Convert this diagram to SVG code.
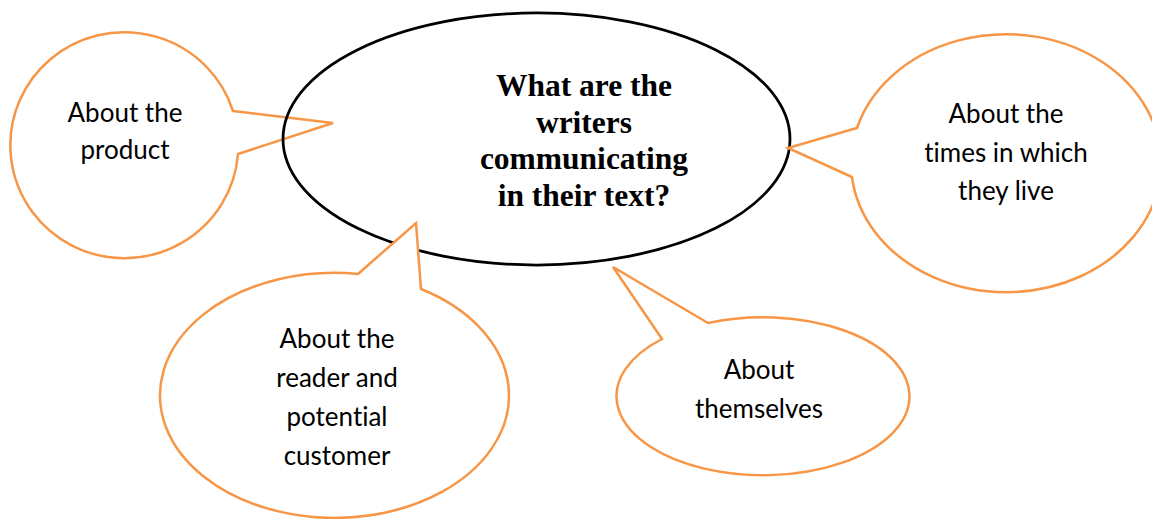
<svg xmlns="http://www.w3.org/2000/svg" width="1152" height="519" viewBox="0 0 1152 519">
  <style>
    .callout { fill: #ffffff; stroke: #F79646; stroke-width: 2.5; stroke-linejoin: miter; }
    .central { fill: none; stroke: #000000; stroke-width: 2.75; }
    .lbl { font-family: Lato, "Open Sans", sans-serif; font-size: 26px; fill: #000000; text-anchor: middle; font-variant-ligatures: none; }
    .q { font-family: "Liberation Serif", "Times New Roman", serif; font-size: 31.5px; font-weight: bold; fill: #000000; text-anchor: middle; }
  </style>
  <rect width="1152" height="519" fill="#ffffff"/>

  <g id="node-product">
    <path class="callout" d="M233,111 L333,123 L238,154 A114,113 0 1 1 233,111 Z"/>
    <text class="lbl" x="125" y="122">About the</text>
    <text class="lbl" x="125" y="159">product</text>
  </g>

  <g id="node-central">
    <ellipse class="central" cx="536.5" cy="139" rx="253.5" ry="126"/>
    <text class="q" x="584" y="96">What are the</text>
    <text class="q" x="584" y="132.5">writers</text>
    <text class="q" x="584" y="169">communicating</text>
    <text class="q" x="584" y="205.5">in their text?</text>
  </g>

  <g id="node-times">
    <path class="callout" d="M852,177 L788,148 L857,128 A155,129 0 1 1 852,177 Z"/>
    <text class="lbl" x="1006" y="123">About the</text>
    <text class="lbl" x="1006" y="162">times in which</text>
    <text class="lbl" x="1006" y="200">they live</text>
  </g>

  <g id="node-reader">
    <path class="callout" d="M358,274 L416,223 L421,289 A174.5,122.5 0 1 1 358,274 Z"/>
    <text class="lbl" x="337" y="348">About the</text>
    <text class="lbl" x="337" y="387">reader and</text>
    <text class="lbl" x="337" y="426">potential</text>
    <text class="lbl" x="337" y="465">customer</text>
  </g>

  <g id="node-themselves">
    <path class="callout" d="M662,339 L613,267 L708,323 A146.5,79 0 1 1 662,339 Z"/>
    <text class="lbl" x="759" y="379">About</text>
    <text class="lbl" x="759" y="418">themselves</text>
  </g>
</svg>
